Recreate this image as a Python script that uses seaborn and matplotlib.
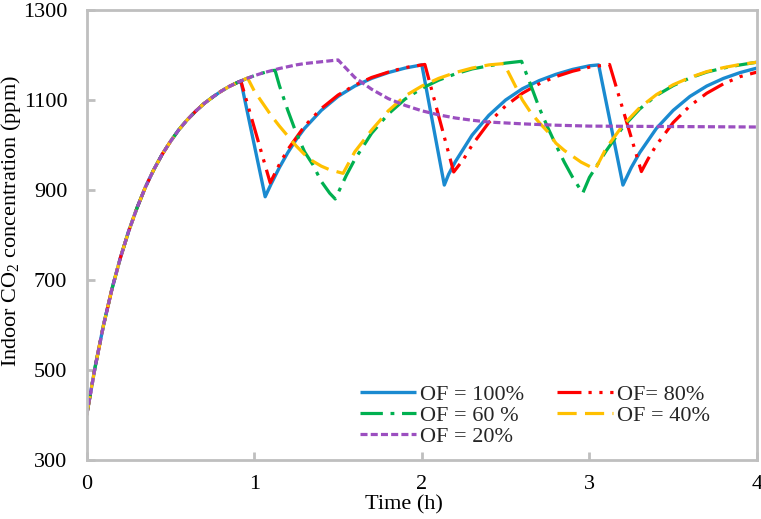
import matplotlib
matplotlib.use('Agg')
import matplotlib.pyplot as plt
import seaborn as sns

sns.set_theme(style='white')
plt.rcParams['font.family'] = ['Liberation Serif', 'DejaVu Serif']
plt.rcParams['mathtext.fontset'] = 'custom'
plt.rcParams['mathtext.rm'] = 'Liberation Serif'
plt.rcParams['mathtext.it'] = 'Liberation Serif:italic'

# ---------------- data ----------------
t_rise = [0.0, 0.05, 0.1, 0.15, 0.2, 0.25, 0.3, 0.35, 0.4, 0.45, 0.5,
          0.55, 0.6, 0.65, 0.7, 0.75, 0.8, 0.85, 0.9]
ppm_rise = [400, 506, 599, 679, 748, 808, 860, 906, 945, 979, 1008,
            1034, 1056, 1075, 1092, 1106, 1119, 1130, 1139]

t_of100 = [0.92, 1.065, 1.1, 1.15, 1.2, 1.25, 1.3, 1.4, 1.5, 1.6, 1.7, 1.8, 1.9, 2.0,
           2.134, 2.16, 2.2, 2.3, 2.4, 2.5, 2.6, 2.7, 2.8, 2.9, 3.0, 3.055,
           3.2, 3.25, 3.3, 3.4, 3.5, 3.6, 3.7, 3.8, 3.9, 4.0]
ppm_of100 = [1142, 885, 913, 950, 983, 1012, 1037, 1077, 1108, 1131, 1148, 1161, 1171, 1178,
             911, 935, 963, 1022, 1066, 1100, 1125, 1143, 1157, 1168, 1176, 1178,
             911, 950, 983, 1037, 1077, 1108, 1131, 1148, 1161, 1171]

t_of80 = [0.92, 1.095, 1.15, 1.2, 1.3, 1.4, 1.5, 1.6, 1.7, 1.8, 1.9, 2.0, 2.018,
          2.19, 2.25, 2.3, 2.4, 2.5, 2.6, 2.7, 2.8, 2.9, 3.0, 3.12,
          3.31, 3.35, 3.4, 3.5, 3.6, 3.7, 3.8, 3.9, 4.0]
ppm_of80 = [1142, 916, 957, 990, 1042, 1081, 1111, 1133, 1150, 1162, 1172, 1178, 1179,
            940, 969, 1000, 1050, 1087, 1115, 1136, 1152, 1164, 1173, 1179,
            941, 969, 1000, 1050, 1087, 1115, 1136, 1152, 1162]

t_of60 = [0.95, 1.0, 1.05, 1.1, 1.124, 1.15, 1.2, 1.25, 1.3, 1.35, 1.4, 1.45, 1.483,
          1.55, 1.6, 1.7, 1.8, 1.9, 2.0, 2.1, 2.2, 2.3, 2.4, 2.5, 2.595,
          2.65, 2.7, 2.75, 2.8, 2.85, 2.9, 2.96,
          3.0, 3.1, 3.2, 3.3, 3.4, 3.5, 3.6, 3.7, 3.8, 3.9, 4.0]
ppm_of60 = [1147, 1154, 1160, 1165, 1166, 1132, 1077, 1027, 985, 956, 919, 893, 880,
            933, 968, 1026, 1069, 1102, 1126, 1144, 1158, 1169, 1176, 1182, 1186,
            1133, 1083, 1040, 1000, 962, 928, 893,
            928, 987, 1040, 1080, 1110, 1132, 1149, 1162, 1171, 1178, 1184]

t_of40 = [0.96, 1.0, 1.05, 1.1, 1.15, 1.2, 1.25, 1.3, 1.35, 1.4, 1.45, 1.53,
          1.6, 1.7, 1.8, 1.9, 2.0, 2.1, 2.2, 2.3, 2.4, 2.49,
          2.55, 2.6, 2.65, 2.7, 2.75, 2.8, 2.85, 2.9, 2.95, 3.035,
          3.1, 3.2, 3.3, 3.4, 3.5, 3.6, 3.7, 3.8, 3.9, 4.0]
ppm_of40 = [1149, 1120, 1093, 1066, 1042, 1020, 998, 979, 964, 953, 945, 937,
            985, 1033, 1076, 1109, 1131, 1148, 1161, 1171, 1178, 1181,
            1137, 1100, 1072, 1050, 1030, 1004, 988, 975, 962, 946,
            993, 1044, 1083, 1112, 1134, 1150, 1163, 1172, 1179, 1184]

t_of20 = [0.95, 1.0, 1.05, 1.1, 1.15, 1.2, 1.25, 1.3, 1.35, 1.4, 1.45, 1.5,
          1.6, 1.7, 1.8, 1.9, 2.0, 2.1, 2.2, 2.3, 2.4, 2.5, 2.6, 2.8, 3.0, 3.5, 4.0]
ppm_of20 = [1147, 1154, 1160, 1165, 1170, 1174, 1178, 1181, 1183, 1185, 1187, 1189,
            1150, 1124, 1103, 1088, 1076, 1067, 1060, 1055, 1051, 1049, 1047, 1044, 1042, 1041, 1040]

labels = ['OF = 100%', 'OF= 80%', 'OF = 60 %', 'OF = 40%', 'OF = 20%']
colors = ['#1A8AD0', '#FF0000', '#00B050', '#FFC000', '#9B4FC0']
x_ticks = [0, 1, 2, 3, 4]
y_ticks = [300, 500, 700, 900, 1100, 1300]

# ---------------- figure ----------------
W, H = 761, 519
fig = plt.figure(figsize=(W / 100, H / 100), dpi=100)
ax = fig.add_axes([86.7 / W, 59 / H, 670.3 / W, 450 / H])

series = [
    (t_of100, ppm_of100, None, 2.4),
    (t_of80, ppm_of80, (0, (7.5, 2.2, 1.0, 2.4, 1.0, 2.4)), 2.3),
    (t_of60, ppm_of60, (0, (7.0, 2.4, 1.2, 2.4)), 2.3),
    (t_of40, ppm_of40, (0, (6.0, 2.6)), 2.3),
    (t_of20, ppm_of20, (0, (2.2, 1.0)), 2.3),
]
handles = []
for (tt, pp, ls, lw), lab, col in zip(series, labels, colors):
    x = t_rise + tt
    y = ppm_rise + pp
    n0 = len(ax.lines)
    sns.lineplot(x=x, y=y, ax=ax, color=col, linewidth=lw, estimator=None,
                 sort=False, legend=False)
    line = ax.lines[n0]
    line.set_linestyle('-' if ls is None else ls)
    line.set_solid_capstyle('butt')
    line.set_label(lab)
    handles.append(line)

ax.set_xlim(0, 4)
ax.set_ylim(300, 1300)
ax.set_xticks(x_ticks)
ax.set_yticks(y_ticks)
ax.set_xticklabels([str(v) for v in x_ticks])
ax.set_yticklabels([str(v) for v in y_ticks])

frame_col = '#BFBFBF'
for sp in ax.spines.values():
    sp.set_visible(True)
    sp.set_color(frame_col)
    sp.set_linewidth(2.0)
ax.tick_params(axis='both', which='both', direction='in', length=6, width=2,
               color=frame_col, labelsize=16, labelcolor='black',
               bottom=True, left=True, top=False, right=False)
ax.tick_params(axis='y', pad=14)
ax.tick_params(axis='x', pad=11)
ax.grid(False)

ax.set_xlabel('Time (h)', fontsize=16, color='black')
ax.set_ylabel(r'Indoor CO$_2$ concentration (ppm)', fontsize=16, color='black')
ax.xaxis.set_label_coords((404 - 86.7) / 670.3, -0.079)
ax.yaxis.set_label_coords(-0.095, 0.531)

order = [0, 2, 4, 1, 3]
leg = ax.legend([handles[i] for i in order], [labels[i] for i in order],
                ncol=2, frameon=False, loc='upper left',
                bbox_to_anchor=((360 - 86.7) / 670.3, (460 - 384) / 450),
                fontsize=16, handlelength=2.5, handletextpad=0.2,
                columnspacing=1.5, labelspacing=0.02, borderaxespad=0,
                borderpad=0)

fig.savefig('out.png', dpi=100)
